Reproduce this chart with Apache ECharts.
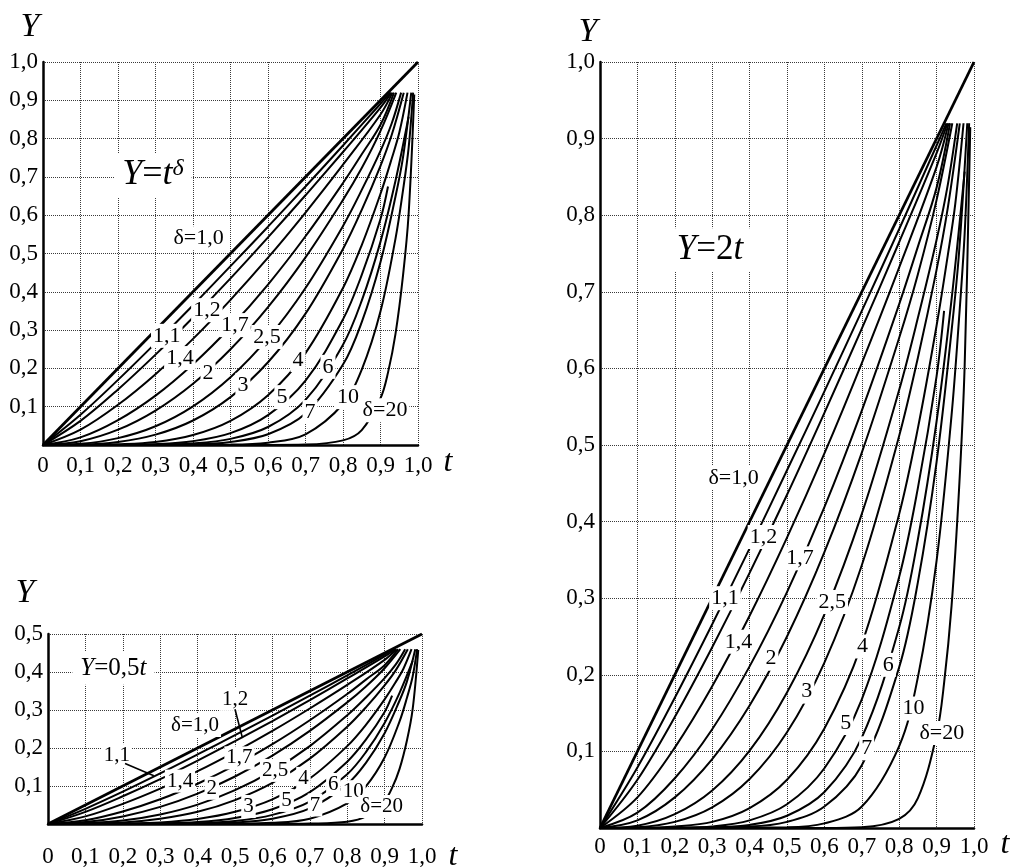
<!DOCTYPE html>
<html>
<head>
<meta charset="utf-8">
<script src="https://cdn.jsdelivr.net/npm/echarts@6/dist/echarts.min.js"></script>
<style>
  html, body { margin: 0; padding: 0; background: #fff; }
  #chart { width: 1017px; height: 868px; }
</style>
</head>
<body>
<div id="chart"></div>
<script>
const FONT = "'Liberation Serif', 'Times New Roman', serif"

// tick labels
const xTickLabels = ['0', '0,1', '0,2', '0,3', '0,4', '0,5', '0,6', '0,7', '0,8', '0,9', '1,0']
const yTickLabels = ['', '0,1', '0,2', '0,3', '0,4', '0,5', '0,6', '0,7', '0,8', '0,9', '1,0']

const d1_0 = [[0, 0], [1, 1]]
const d1_1 = [[0, 0], [0.1, 0.079], [0.2, 0.17], [0.3, 0.266], [0.4, 0.365], [0.5, 0.467], [0.6, 0.57], [0.7, 0.675], [0.8, 0.782], [0.9, 0.891], [0.926, 0.92]]
const d1_2 = [[0, 0], [0.1, 0.063], [0.2, 0.145], [0.3, 0.236], [0.4, 0.333], [0.5, 0.435], [0.6, 0.542], [0.7, 0.652], [0.8, 0.765], [0.9, 0.881], [0.929, 0.92]]
const d1_4 = [[0, 0], [0.1, 0.04], [0.2, 0.105], [0.3, 0.185], [0.4, 0.277], [0.5, 0.379], [0.6, 0.489], [0.7, 0.607], [0.8, 0.732], [0.9, 0.863], [0.932, 0.92]]
const d1_7 = [[0, 0], [0.1, 0.02], [0.2, 0.065], [0.3, 0.129], [0.4, 0.211], [0.5, 0.308], [0.6, 0.419], [0.7, 0.545], [0.8, 0.684], [0.85, 0.759], [0.9, 0.836], [0.936, 0.92]]
const d2 = [[0, 0], [0.1, 0.01], [0.2, 0.04], [0.3, 0.09], [0.4, 0.16], [0.5, 0.25], [0.6, 0.36], [0.7, 0.49], [0.8, 0.64], [0.85, 0.723], [0.9, 0.82], [0.942, 0.92]]
const d2_5 = [[0, 0], [0.1, 0.003], [0.2, 0.018], [0.3, 0.049], [0.4, 0.101], [0.5, 0.177], [0.6, 0.279], [0.7, 0.41], [0.8, 0.572], [0.85, 0.666], [0.9, 0.768], [0.93, 0.84], [0.955, 0.92]]
const d3 = [[0, 0], [0.1, 0.001], [0.2, 0.008], [0.3, 0.027], [0.4, 0.064], [0.5, 0.125], [0.6, 0.216], [0.7, 0.343], [0.8, 0.512], [0.85, 0.614], [0.9, 0.729], [0.93, 0.81], [0.962, 0.92]]
const d4 = [[0, 0], [0.1, 0], [0.2, 0.002], [0.3, 0.008], [0.4, 0.026], [0.5, 0.063], [0.6, 0.13], [0.7, 0.24], [0.8, 0.41], [0.85, 0.522], [0.9, 0.656], [0.93, 0.748], [0.95, 0.815], [0.972, 0.92]]
const d5 = [[0, 0], [0.2, 0], [0.3, 0.002], [0.4, 0.01], [0.5, 0.031], [0.6, 0.078], [0.7, 0.168], [0.8, 0.328], [0.85, 0.444], [0.9, 0.59], [0.92, 0.675]]
const d6 = [[0, 0], [0.3, 0.001], [0.4, 0.004], [0.5, 0.016], [0.6, 0.047], [0.7, 0.118], [0.8, 0.262], [0.85, 0.377], [0.9, 0.531], [0.94, 0.69], [0.975, 0.857]]
const d7 = [[0, 0], [0.4, 0.002], [0.5, 0.008], [0.6, 0.028], [0.7, 0.082], [0.8, 0.21], [0.85, 0.321], [0.9, 0.478], [0.94, 0.649], [0.96, 0.751], [0.982, 0.92]]
const d10 = [[0, 0], [0.5, 0.001], [0.6, 0.006], [0.7, 0.028], [0.8, 0.107], [0.85, 0.197], [0.9, 0.349], [0.94, 0.539], [0.96, 0.665], [0.975, 0.776], [0.987, 0.92]]
const d20 = [[0, 0], [0.6, 0], [0.7, 0.001], [0.8, 0.012], [0.85, 0.039], [0.9, 0.122], [0.92, 0.189], [0.94, 0.29], [0.96, 0.442], [0.975, 0.603], [0.99, 0.915]]

const h1_0 = [[0, 0], [1, 0.5]]
const h1_1 = [[0, 0], [0.1, 0.04], [0.2, 0.085], [0.3, 0.133], [0.4, 0.183], [0.5, 0.234], [0.6, 0.285], [0.7, 0.338], [0.8, 0.391], [0.9, 0.446], [0.926, 0.46]]
const h1_2 = [[0, 0], [0.1, 0.032], [0.2, 0.073], [0.3, 0.118], [0.4, 0.167], [0.5, 0.218], [0.6, 0.271], [0.7, 0.326], [0.8, 0.383], [0.9, 0.441], [0.929, 0.46]]
const h1_4 = [[0, 0], [0.1, 0.02], [0.2, 0.053], [0.3, 0.093], [0.4, 0.139], [0.5, 0.19], [0.6, 0.245], [0.7, 0.304], [0.8, 0.366], [0.9, 0.432], [0.932, 0.46]]
const h1_7 = [[0, 0], [0.1, 0.01], [0.2, 0.033], [0.3, 0.065], [0.4, 0.106], [0.5, 0.154], [0.6, 0.21], [0.7, 0.273], [0.8, 0.342], [0.85, 0.38], [0.9, 0.418], [0.936, 0.46]]
const h2 = [[0, 0], [0.1, 0.005], [0.2, 0.02], [0.3, 0.045], [0.4, 0.08], [0.5, 0.125], [0.6, 0.18], [0.7, 0.245], [0.8, 0.32], [0.85, 0.362], [0.9, 0.41], [0.942, 0.46]]
const h2_5 = [[0, 0], [0.1, 0.002], [0.2, 0.009], [0.3, 0.025], [0.4, 0.051], [0.5, 0.089], [0.6, 0.14], [0.7, 0.205], [0.8, 0.286], [0.85, 0.333], [0.9, 0.384], [0.93, 0.42], [0.955, 0.46]]
const h3 = [[0, 0], [0.1, 0.001], [0.2, 0.004], [0.3, 0.014], [0.4, 0.032], [0.5, 0.063], [0.6, 0.108], [0.7, 0.172], [0.8, 0.256], [0.85, 0.307], [0.9, 0.365], [0.93, 0.405], [0.962, 0.46]]
const h4 = [[0, 0], [0.1, 0], [0.2, 0.001], [0.3, 0.004], [0.4, 0.013], [0.5, 0.032], [0.6, 0.065], [0.7, 0.12], [0.8, 0.205], [0.85, 0.261], [0.9, 0.328], [0.93, 0.374], [0.95, 0.408], [0.972, 0.46]]
const h5 = [[0, 0], [0.2, 0], [0.3, 0.001], [0.4, 0.005], [0.5, 0.016], [0.6, 0.039], [0.7, 0.084], [0.8, 0.164], [0.85, 0.222], [0.9, 0.295], [0.92, 0.338]]
const h6 = [[0, 0], [0.3, 0.001], [0.4, 0.002], [0.5, 0.008], [0.6, 0.024], [0.7, 0.059], [0.8, 0.131], [0.85, 0.189], [0.9, 0.266], [0.94, 0.345], [0.975, 0.429]]
const h7 = [[0, 0], [0.4, 0.001], [0.5, 0.004], [0.6, 0.014], [0.7, 0.041], [0.8, 0.105], [0.85, 0.161], [0.9, 0.239], [0.94, 0.325], [0.96, 0.376], [0.982, 0.46]]
const h10 = [[0, 0], [0.5, 0.001], [0.6, 0.003], [0.7, 0.014], [0.8, 0.054], [0.85, 0.099], [0.9, 0.175], [0.94, 0.27], [0.96, 0.333], [0.975, 0.388], [0.987, 0.46]]
const h20 = [[0, 0], [0.6, 0], [0.7, 0.001], [0.8, 0.006], [0.85, 0.02], [0.9, 0.061], [0.92, 0.095], [0.94, 0.145], [0.96, 0.221], [0.975, 0.302], [0.99, 0.458]]

const curvesFull = [d1_0, d1_1, d1_2, d1_4, d1_7, d2, d2_5, d3, d4, d5, d6, d7, d10, d20]
const curvesHalf = [h1_0, h1_1, h1_2, h1_4, h1_7, h2, h2_5, h3, h4, h5, h6, h7, h10, h20]

// curve labels [t, Y, text]
const labelsTop = [[0.415, 0.54, 'δ=1,0'], [0.437, 0.352, '1,2'], [0.33, 0.285, '1,1'], [0.365, 0.227, '1,4'], [0.512, 0.313, '1,7'], [0.44, 0.188, '2'], [0.597, 0.282, '2,5'], [0.533, 0.157, '3'], [0.68, 0.222, '4'], [0.637, 0.125, '5'], [0.76, 0.204, '6'], [0.712, 0.086, '7'], [0.813, 0.125, '10'], [0.912, 0.091, 'δ=20']]
const labelsBottom = [[0.393, 0.259, 'δ=1,0'], [0.5, 0.328, '1,2'], [0.184, 0.18, '1,1'], [0.353, 0.113, '1,4'], [0.512, 0.174, '1,7'], [0.438, 0.094, '2'], [0.607, 0.141, '2,5'], [0.536, 0.046, '3'], [0.683, 0.12, '4'], [0.638, 0.062, '5'], [0.763, 0.104, '6'], [0.714, 0.05, '7'], [0.816, 0.085, '10'], [0.892, 0.046, 'δ=20']]
const labelsRight = [[0.357, 0.457, 'δ=1,0'], [0.437, 0.38, '1,2'], [0.334, 0.3, '1,1'], [0.37, 0.243, '1,4'], [0.535, 0.352, '1,7'], [0.457, 0.221, '2'], [0.621, 0.295, '2,5'], [0.553, 0.178, '3'], [0.702, 0.237, '4'], [0.657, 0.137, '5'], [0.771, 0.213, '6'], [0.713, 0.104, '7'], [0.838, 0.156, '10'], [0.914, 0.124, 'δ=20']]
const leadersBottom = [[[0.5, 0.302], [0.52, 0.226]], [[0.206, 0.159], [0.283, 0.127]]]

// panel formulas [t, Y, text]
const formulaTop = [0.293, 0.705, '{i|Y}{n|=}{i|t}{s|δ}']
const formulaBottom = [0.175, 0.41, '{i|Y}{n|=0,5}{i|t}']
const formulaRight = [0.294, 0.755, '{i|Y}{n|=2}{i|t}']

const grids = [
  { left: 43, top: 62, width: 375, height: 383 },
  { left: 48, top: 634, width: 374, height: 192 },
  { left: 600, top: 62, width: 374, height: 766 }
]
const yMax = [1, 0.5, 1]
const xLabelMargin = [9, 21, 7]

const chart = echarts.init(document.getElementById('chart'))

const axisLineStyle = { color: '#000', width: 2.5 }
const gridLine = { show: true, lineStyle: { color: '#3a3a3a', width: 1, type: [1, 1] } }

const xAxis = grids.map((g, i) => ({
  type: 'value', gridIndex: i, min: 0, max: 1, interval: 0.1,
  axisLine: { show: true, onZero: false, lineStyle: axisLineStyle },
  axisTick: { show: false },
  splitLine: gridLine,
  axisLabel: {
    color: '#000', fontFamily: FONT, fontSize: 23, margin: xLabelMargin[i],
    formatter: (v) => xTickLabels[Math.round(v * 10)]
  }
}))
const yAxis = grids.map((g, i) => ({
  type: 'value', gridIndex: i, min: 0, max: yMax[i], interval: 0.1,
  axisLine: { show: true, onZero: false, lineStyle: axisLineStyle },
  axisTick: { show: false },
  splitLine: gridLine,
  axisLabel: {
    color: '#000', fontFamily: FONT, fontSize: 23, margin: 5,
    formatter: (v) => yTickLabels[Math.round(v * 10)]
  }
}))

const series = []
const addCurves = (p, curves) => {
  curves.forEach((d, k) => series.push({
    type: 'line', xAxisIndex: p, yAxisIndex: p, data: d,
    symbol: 'none', smooth: 0.35, silent: true, z: 3,
    lineStyle: { color: '#000', width: k === 0 ? 2.8 : 2 }
  }))
}
const textLabel = {
  show: true, position: 'inside', formatter: (q) => q.data[2],
  color: '#000', opacity: 1, textBorderWidth: 0, textBorderColor: 'transparent',
  backgroundColor: '#fff'
}
const addLabels = (p, items, size) => {
  series.push({
    type: 'scatter', xAxisIndex: p, yAxisIndex: p, data: items,
    symbolSize: 1, itemStyle: { color: '#fff' }, silent: true, z: 10,
    emphasis: { disabled: true },
    label: Object.assign({}, textLabel, { fontFamily: FONT, fontSize: size, padding: [1, 2] })
  })
}
const addFormula = (p, item, size, supSize) => {
  series.push({
    type: 'scatter', xAxisIndex: p, yAxisIndex: p, data: [item],
    symbolSize: 1, itemStyle: { color: '#fff' }, silent: true, z: 10,
    emphasis: { disabled: true },
    label: Object.assign({}, textLabel, {
      padding: [4, 8],
      rich: {
        i: { fontFamily: FONT, fontStyle: 'italic', fontSize: size, color: '#000' },
        n: { fontFamily: FONT, fontSize: size, color: '#000' },
        s: { fontFamily: FONT, fontStyle: 'italic', fontSize: supSize, color: '#000', verticalAlign: 'top' }
      }
    })
  })
}

addCurves(0, curvesFull)
addCurves(1, curvesHalf)
addCurves(2, curvesFull)
addLabels(0, labelsTop, 22)
addLabels(1, labelsBottom, 21)
addLabels(2, labelsRight, 22)
leadersBottom.forEach((d) => series.push({
  type: 'line', xAxisIndex: 1, yAxisIndex: 1, data: d, symbol: 'none', silent: true, z: 11,
  lineStyle: { color: '#000', width: 1.6 }
}))
addFormula(0, formulaTop, 36, 24)
addFormula(1, formulaBottom, 25, 18)
addFormula(2, formulaRight, 35, 22)

const title = (text, x, y, size) => ({
  type: 'text', x, y,
  style: { text, font: `italic ${size}px ${FONT}`, fill: '#000', align: 'center', verticalAlign: 'middle', textAlign: 'center', textVerticalAlign: 'middle' }
})

chart.setOption({
  backgroundColor: '#fff',
  animation: false,
  grid: grids,
  xAxis,
  yAxis,
  series,
  graphic: [
    title('Y', 30, 27, 34), title('t', 448, 463, 32),
    title('Y', 25, 593, 34), title('t', 453, 857, 32),
    title('Y', 588, 32, 34), title('t', 1005, 845, 32)
  ]
})

window.addEventListener('resize', () => chart.resize())
</script>
</body>
</html>
